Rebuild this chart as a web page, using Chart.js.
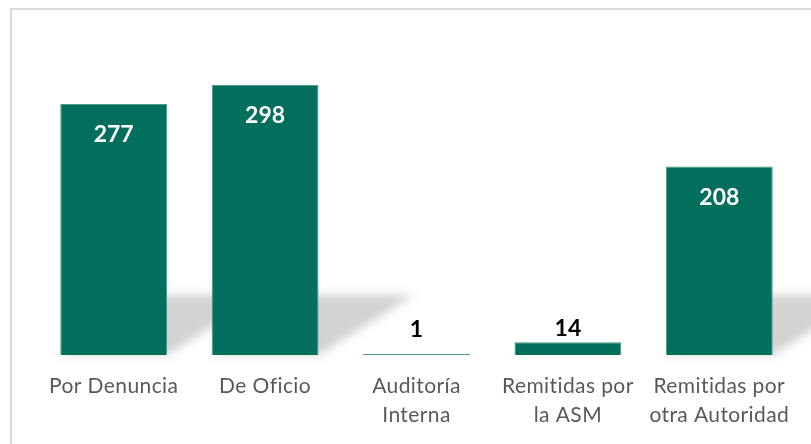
<!DOCTYPE html>
<html>
<head>
<meta charset="utf-8">
<script src="https://cdn.jsdelivr.net/npm/chart.js@4"></script>
<style>
html,body{margin:0;padding:0;background:#fff;}
#wrap{width:811px;height:444px;position:relative;}
</style>
</head>
<body>
<div id="wrap"><canvas id="c" width="811" height="444"></canvas></div>
<script>
const categories = [
  'Por Denuncia',
  'De Oficio',
  ['Auditoría', 'Interna'],
  ['Remitidas por', 'la ASM'],
  ['Remitidas por', 'otra Autoridad']
];
const values = [277, 298, 1, 14, 208];

const barColor = '#026e5c';
const barEdge = '#4c9a89';

const framePlugin = {
  id: 'frame',
  beforeDraw(chart) {
    const ctx = chart.ctx;
    ctx.letterSpacing = '0.4px';
    ctx.save();
    ctx.fillStyle = '#ffffff';
    ctx.fillRect(0, 0, chart.width, chart.height);
    ctx.strokeStyle = '#d9d9d9';
    ctx.lineWidth = 2;
    ctx.beginPath();
    ctx.moveTo(11, chart.height);
    ctx.lineTo(11, 9);
    ctx.lineTo(chart.width, 9);
    ctx.stroke();
    ctx.restore();
  }
};

const shadowPlugin = {
  id: 'barShadow',
  beforeDatasetsDraw(chart) {
    const ctx = chart.ctx;
    const meta = chart.getDatasetMeta(0);
    ctx.save();
    ctx.filter = 'blur(5px)';
    ctx.fillStyle = 'rgba(165,165,165,0.5)';
    meta.data.forEach(el => {
      const p = el.getProps(['x', 'y', 'base', 'width'], true);
      const hgt = p.base - p.y;
      if (hgt < 100) return;
      const h = 60, dx = 96;
      const l = p.x - p.width / 2, r = p.x + p.width / 2;
      ctx.beginPath();
      ctx.moveTo(l, p.base);
      ctx.lineTo(l + dx, p.base - h);
      ctx.lineTo(r + dx, p.base - h);
      ctx.lineTo(r, p.base);
      ctx.closePath();
      ctx.fill();
    });
    ctx.restore();
  }
};

const labelPlugin = {
  id: 'valueLabels',
  afterDatasetsDraw(chart) {
    const ctx = chart.ctx;
    const meta = chart.getDatasetMeta(0);
    ctx.save();
    ctx.letterSpacing = '0px';
    ctx.font = 'bold 23px Lato';
    ctx.textAlign = 'center';
    ctx.textBaseline = 'alphabetic';
    meta.data.forEach((el, i) => {
      const p = el.getProps(['x', 'y', 'base'], true);
      const hgt = p.base - p.y;
      const txt = String(values[i]);
      if (hgt > 40) {
        ctx.fillStyle = '#ffffff';
        ctx.fillText(txt, p.x, p.y + 38);
      } else {
        ctx.fillStyle = '#000000';
        ctx.fillText(txt, p.x, Math.min(p.y, p.base - 12) - 6);
      }
    });
    ctx.restore();
  }
};

new Chart(document.getElementById('c'), {
  type: 'bar',
  data: {
    labels: categories,
    datasets: [{
      data: values,
      backgroundColor: barColor,
      borderColor: barEdge,
      borderWidth: 1,
      barPercentage: 0.706,
      categoryPercentage: 1.0
    }]
  },
  options: {
    responsive: false,
    animation: false,
    devicePixelRatio: 1,
    layout: { padding: { left: 38, right: 16, top: 38, bottom: 14 } },
    plugins: { legend: { display: false }, tooltip: { enabled: false } },
    scales: {
      x: {
        grid: { display: false, drawTicks: false },
        border: { display: false },
        afterFit(scale) { scale.height = 75; },
        ticks: {
          color: '#595959',
          font: { family: 'Lato', size: 21, lineHeight: '29px' },
          padding: 17,
          maxRotation: 0,
          autoSkip: false
        }
      },
      y: {
        display: false,
        min: 0,
        max: 350
      }
    }
  },
  plugins: [framePlugin, shadowPlugin, labelPlugin]
});
</script>
</body>
</html>
